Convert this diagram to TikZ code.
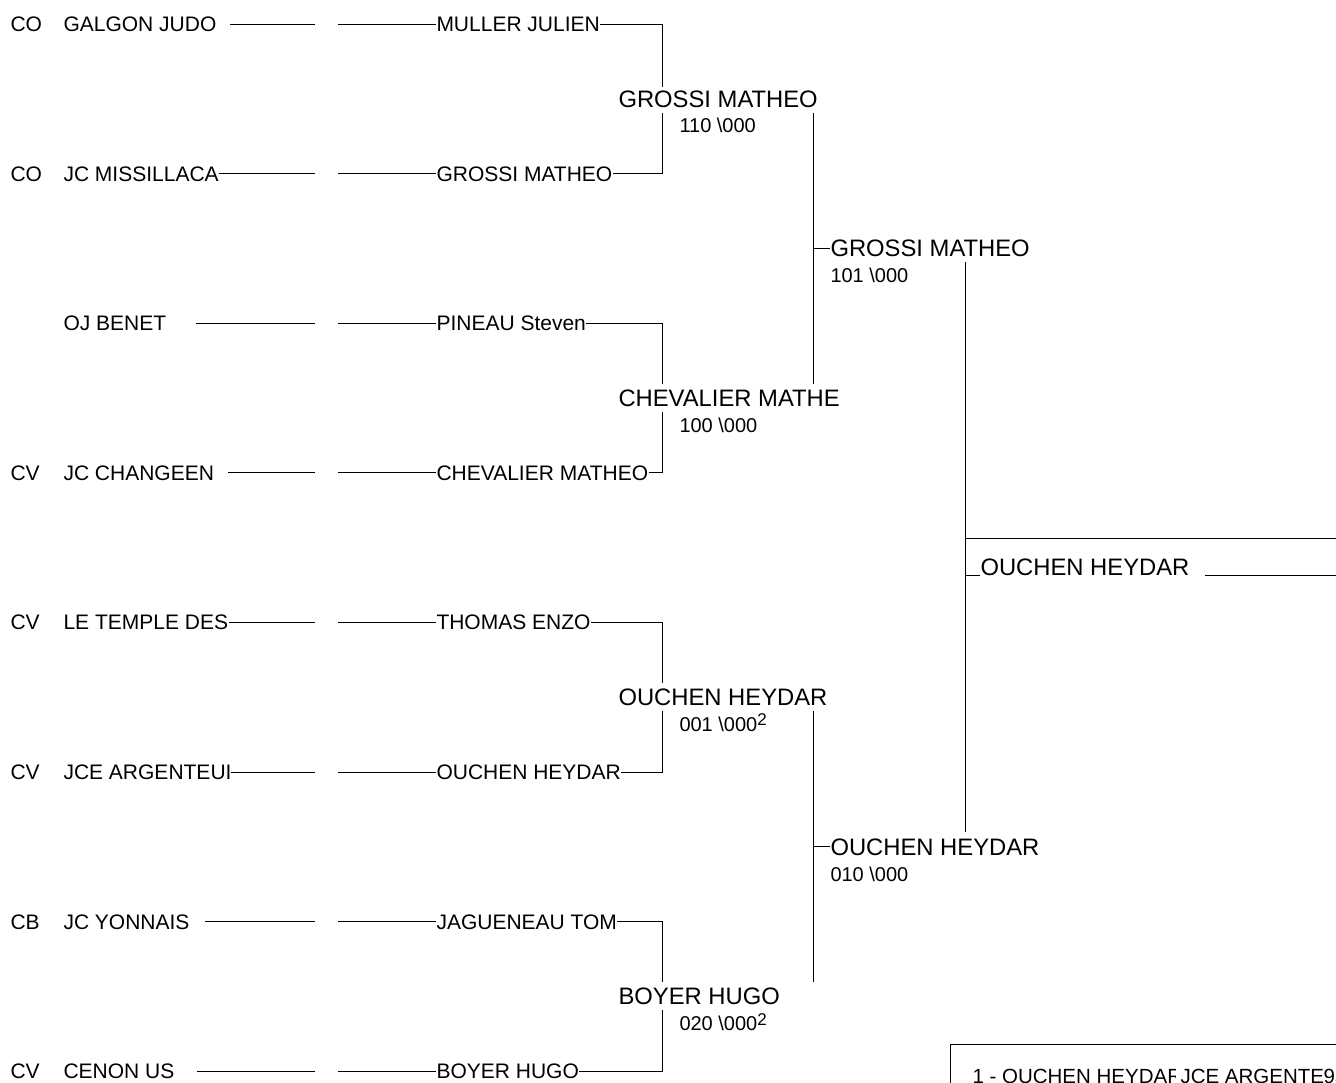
\documentclass[tikz,border=0pt]{standalone}
\usepackage{fontspec}
\setmainfont{Liberation Sans}
\tikzstyle{clubText}=[font=\fontsize{21}{25}\selectfont, inner sep=0pt, anchor=base west]
\tikzstyle{nameText}=[font=\fontsize{21}{25}\selectfont, inner sep=0pt, anchor=base west]
\tikzstyle{bigText}=[font=\fontsize{23.8}{28}\selectfont, inner sep=0pt, anchor=base west]
\tikzstyle{scoreText}=[font=\fontsize{20}{24}\selectfont, inner sep=0pt, anchor=base west]
\newcommand{\supTwo}{\raisebox{5.5pt}{\fontsize{17}{17}\selectfont 2}}
\begin{document}
\begin{tikzpicture}[x = 1pt, y = -1pt, line width = 1pt]
\clip (0,0) rectangle (1336,1082);
\tikzstyle{boxText}=[font=\fontsize{20.5}{24}\selectfont, inner sep=0pt, anchor=base west]
% first round: club code, club, player
\node[clubText] (k0) at (10,31.5) {CO};
\node[clubText] (c0) at (63,31.5) {GALGON JUDO};
\node[nameText] (p0) at (436,31.5) {MULLER JULIEN};
\node[clubText] (k1) at (10,181.1) {CO};
\node[clubText] (c1) at (63,181.1) {JC MISSILLACA};
\node[nameText] (p1) at (436,181.1) {GROSSI MATHEO};
\node[clubText] (c2) at (63,330.7) {OJ BENET};
\node[nameText] (p2) at (436,330.7) {PINEAU Steven};
\node[clubText] (k3) at (10,480.3) {CV};
\node[clubText] (c3) at (63,480.3) {JC CHANGEEN};
\node[nameText] (p3) at (436,480.3) {CHEVALIER MATHEO};
\node[clubText] (k4) at (10,629.9) {CV};
\node[clubText] (c4) at (63,629.9) {LE TEMPLE DES};
\node[nameText] (p4) at (436,629.9) {THOMAS ENZO};
\node[clubText] (k5) at (10,779.5) {CV};
\node[clubText] (c5) at (63,779.5) {JCE ARGENTEUI};
\node[nameText] (p5) at (436,779.5) {OUCHEN HEYDAR};
\node[clubText] (k6) at (10,929.1) {CB};
\node[clubText] (c6) at (63,929.1) {JC YONNAIS};
\node[nameText] (p6) at (436,929.1) {JAGUENEAU TOM};
\node[clubText] (k7) at (10,1078.7) {CV};
\node[clubText] (c7) at (63,1078.7) {CENON US};
\node[nameText] (p7) at (436,1078.7) {BOYER HUGO};
\coordinate (a0) at (230,24);    \coordinate (b0) at (315,24);    \coordinate (d0) at (338,24);
\coordinate (a1) at (219,173.6); \coordinate (b1) at (315,173.6); \coordinate (d1) at (338,173.6);
\coordinate (a2) at (196,323.2); \coordinate (b2) at (315,323.2); \coordinate (d2) at (338,323.2);
\coordinate (a3) at (228,472.8); \coordinate (b3) at (315,472.8); \coordinate (d3) at (338,472.8);
\coordinate (a4) at (229,622.4); \coordinate (b4) at (315,622.4); \coordinate (d4) at (338,622.4);
\coordinate (a5) at (231,772);   \coordinate (b5) at (315,772);   \coordinate (d5) at (338,772);
\coordinate (a6) at (205,921.6); \coordinate (b6) at (315,921.6); \coordinate (d6) at (338,921.6);
\coordinate (a7) at (197,1071.2);\coordinate (b7) at (315,1071.2);\coordinate (d7) at (338,1071.2);
\draw (a0) -- (b0); \draw (d0) -- (p0.west|-d0);
\draw (a1) -- (b1); \draw (d1) -- (p1.west|-d1);
\draw (a2) -- (b2); \draw (d2) -- (p2.west|-d2);
\draw (a3) -- (b3); \draw (d3) -- (p3.west|-d3);
\draw (a4) -- (b4); \draw (d4) -- (p4.west|-d4);
\draw (a5) -- (b5); \draw (d5) -- (p5.west|-d5);
\draw (a6) -- (b6); \draw (d6) -- (p6.west|-d6);
\draw (a7) -- (b7); \draw (d7) -- (p7.west|-d7);
% second round
\node[bigText] (m0) at (618,107) {GROSSI MATHEO};
\node[scoreText] (s0) at (679,132.7) {110 \textbackslash000};
\node[bigText] (m1) at (618,406.3) {CHEVALIER MATHE};
\node[scoreText] (s1) at (679,432) {100 \textbackslash000};
\node[bigText] (m2) at (618,705.6) {OUCHEN HEYDAR};
\node[scoreText] (s2) at (679,731.3) {001 \textbackslash000\supTwo};
\node[bigText] (m3) at (618,1004.9) {BOYER HUGO};
\node[scoreText] (s3) at (679,1030.6) {020 \textbackslash000\supTwo};
\coordinate (t0) at (662,86.5);  \coordinate (u0) at (662,112.5);
\coordinate (t1) at (662,383.8); \coordinate (u1) at (662,411.8);
\coordinate (t2) at (662,683.1); \coordinate (u2) at (662,711.1);
\coordinate (t3) at (662,982.4); \coordinate (u3) at (662,1010.4);
\draw (p0.east|-a0) -| (t0); \draw (p1.east|-a1) -| (u0);
\draw (p2.east|-a2) -| (t1); \draw (p3.east|-a3) -| (u1);
\draw (p4.east|-a4) -| (t2); \draw (p5.east|-a5) -| (u2);
\draw (p6.east|-a6) -| (t3); \draw (p7.east|-a7) -| (u3);
% third round
\node[bigText] (r0) at (830,256.5) {GROSSI MATHEO};
\node[scoreText] (q0) at (830,282.7) {101 \textbackslash000};
\node[bigText] (r1) at (830,855) {OUCHEN HEYDAR};
\node[scoreText] (q1) at (830,881.2) {010 \textbackslash000};
\coordinate (e0) at (813,112.5); \coordinate (f0) at (813,383.8);
\coordinate (e1) at (813,711.1); \coordinate (f1) at (813,982.4);
\draw (e0) -- (f0); \draw (e0|-r0.west) -- (r0.west);
\draw (e1) -- (f1); \draw (e1|-r1.west) -- (r1.west);
% final
\node[bigText] (w0) at (980,575) {OUCHEN HEYDAR};
\coordinate (g0) at (965,262); \coordinate (g1) at (965,832);
\coordinate (h0) at (1336,538);
\coordinate (h1) at (1205,575); \coordinate (h2) at (1336,575);
\draw (g0) -- (g1);
\draw (g0|-h0) -- (h0);
\draw (g0|-w0.base) -- (w0.base west);
\draw (h1) -- (h2);
% ranking box
\draw (950,1044) rectangle (1400,1150);
\begin{scope}
\clip (955,1050) rectangle (1175,1100);
\node[boxText] (z0) at (972,1083) {1 - OUCHEN HEYDAR};
\end{scope}
\begin{scope}
\clip (1178,1050) rectangle (1322,1100);
\node[boxText] (z1) at (1180,1083) {JCE ARGENTEUIL};
\end{scope}
\node[boxText] (z2) at (1323,1083) {95};
\end{tikzpicture}
\end{document}
